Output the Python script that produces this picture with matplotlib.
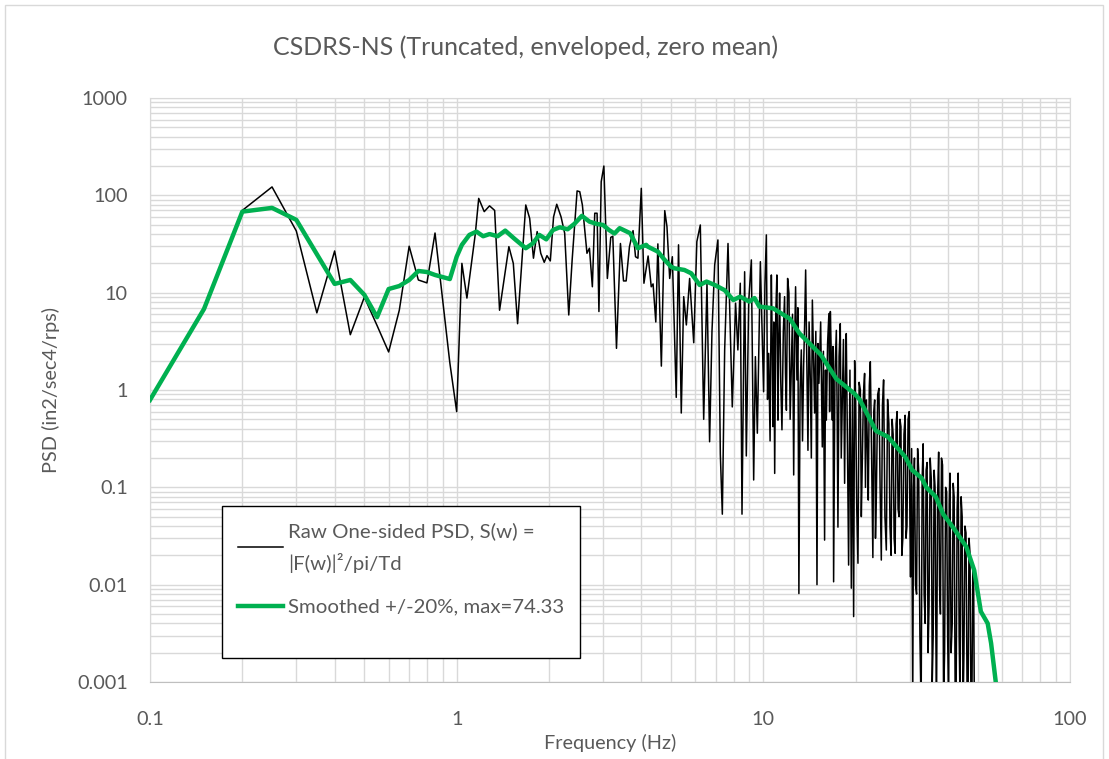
import matplotlib
matplotlib.use("Agg")
from matplotlib import pyplot as plt
from matplotlib.patches import Rectangle
from matplotlib.ticker import LogLocator, FuncFormatter, NullFormatter

plt.rcParams['font.family'] = ['Lato', 'DejaVu Sans']

# raw one-sided PSD below 10 Hz (Hz, in2/sec4/rps)
raw_freq_lo = [0.2, 0.25, 0.3, 0.35, 0.4, 0.45, 0.5, 0.55, 0.6, 0.65,
               0.7, 0.75, 0.8, 0.85, 0.9, 0.95, 1.0, 1.04, 1.08, 1.15,
               1.18, 1.23, 1.28, 1.33, 1.38, 1.48, 1.53, 1.58, 1.68, 1.73,
               1.78, 1.83, 1.88, 1.93, 1.97, 2.02, 2.07, 2.12, 2.19, 2.25,
               2.32, 2.38, 2.47, 2.52, 2.57, 2.66, 2.71, 2.77, 2.82, 2.87,
               2.91, 2.96, 3.02, 3.1, 3.18, 3.23, 3.32, 3.42, 3.5, 3.57,
               3.66, 3.76, 3.83, 3.9, 4.0, 4.08, 4.21, 4.31, 4.37, 4.46,
               4.53, 4.65, 4.77, 4.85, 4.95, 5.05, 5.2, 5.29, 5.4, 5.5,
               5.61, 5.75, 5.93, 6.07, 6.23, 6.39, 6.55, 6.68, 6.8, 6.94,
               7.11, 7.24, 7.35, 7.48, 7.67, 7.92, 8.12, 8.26, 8.41, 8.52,
               8.69, 8.8, 8.96, 9.14, 9.3, 9.42, 9.56, 9.78]
raw_psd_lo = [70, 122, 43, 6.2, 26.8, 3.7, 9.0, 4.6, 2.46, 6.6,
              30, 13.5, 12.6, 41, 8.5, 1.9, 0.6, 20, 8.8, 40,
              93, 68, 78, 70, 6.6, 29.7, 20, 4.8, 79.6, 58,
              22.6, 42.4, 25.4, 20.5, 24, 21.2, 60, 81, 60, 40.8,
              5.9, 21.7, 111, 109, 79.6, 25.4, 28.6, 11.5, 65.5, 65.5,
              6.4, 138, 200, 14, 37, 38, 2.68, 32, 13.2, 13.2,
              29.7, 43.4, 23.4, 22.6, 118, 12.5, 23.8, 11.5, 12.3, 5.0,
              31.7, 1.76, 69.6, 47.7, 14, 23.4, 0.84, 31, 0.58, 9.1,
              4.66, 14, 3.06, 33.4, 49.6, 0.5, 12.5, 0.294, 3.98, 19.3,
              34.8, 0.22, 0.053, 2.58, 32, 0.67, 7.8, 2.58, 12.5, 0.053,
              16.4, 0.21, 8.1, 21.7, 0.119, 2.2, 0.36, 20.8]

# raw PSD above 10 Hz (dense part)
raw_freq_hi = [10.02, 10.12, 10.23, 10.32, 10.41, 10.52, 10.62, 10.69, 10.75, 10.82,
               10.89, 10.98, 11.07, 11.12, 11.16, 11.23, 11.3, 11.4, 11.5, 11.62,
               11.73, 11.81, 11.89, 12.0, 12.12, 12.23, 12.34, 12.45, 12.56, 12.65,
               12.74, 12.8, 12.87, 12.96, 13.06, 13.18, 13.3, 13.42, 13.53, 13.64,
               13.74, 13.86, 13.98, 14.1, 14.23, 14.34, 14.45, 14.58, 14.7, 14.83,
               14.96, 15.07, 15.18, 15.38, 15.57, 15.7, 15.84, 15.95, 16.05, 16.2,
               16.36, 16.45, 16.54, 16.67, 16.79, 16.87, 16.95, 17.12, 17.3, 17.4,
               17.51, 17.66, 17.82, 17.95, 18.09, 18.25, 18.41, 18.52, 18.64, 18.8,
               18.97, 19.16, 19.36, 19.53, 19.7, 19.85, 20.0, 20.17, 20.35, 20.53,
               20.72, 20.87, 21.03, 21.2, 21.39, 21.53, 21.67, 21.83, 21.99, 22.16,
               22.33, 22.55, 22.76, 22.92, 23.07, 23.21, 23.36, 23.6, 23.82, 24.03,
               24.25, 24.46, 24.67, 24.92, 25.18, 25.42, 25.67, 25.88, 26.1, 26.3,
               26.5, 26.7, 26.9, 27.1, 27.3, 27.5, 27.7, 27.9, 28.1, 28.3,
               28.5, 28.75, 29.0, 29.2, 29.4, 29.65, 29.9, 30.05, 30.2, 30.45,
               30.7, 30.9, 31.1, 31.35, 31.6, 31.85, 32.1, 32.4, 32.7, 32.95,
               33.2, 33.45, 33.7, 33.95, 34.2, 34.45, 34.7, 35.0, 35.3, 35.55,
               35.8, 36.05, 36.3, 36.5, 36.7, 37.0, 37.3, 37.55, 37.8, 38.1,
               38.4, 38.7, 39.0, 39.3, 39.6, 39.9, 40.2, 40.4, 40.6, 40.95,
               41.3, 41.6, 41.9, 42.2, 42.5, 42.85, 43.2, 43.5, 43.8, 44.15,
               44.5, 44.8, 45.1, 45.45, 45.8, 46.15, 46.5, 46.85, 47.2, 47.55,
               47.9, 48.2, 48.5, 48.75, 49.0]
raw_psd_hi = [0.96, 12, 39.2, 0.8, 2.38, 0.3, 15.2, 3, 0.42, 5,
              0.139, 6, 15.2, 2, 0.49, 3.5, 9.9, 1.2, 0.39, 4,
              9.1, 1.5, 0.62, 14, 9.9, 0.5, 1.74, 6, 0.134, 3,
              11.5, 4, 1.27, 7, 0.0081, 1.0, 2.58, 0.3, 1.74, 5,
              17.1, 2, 0.24, 5, 1.27, 0.2, 8.4, 2, 0.58, 4,
              0.01, 3, 1.17, 5, 0.26, 2.5, 0.0287, 1.6, 0.49, 3,
              6.1, 0.6, 6.4, 2, 0.49, 2.8, 0.0107, 1.5, 4.1, 0.7,
              0.039, 2.2, 4.8, 0.2, 0.79, 3.3, 0.11, 1.1, 3.8, 0.3,
              0.0159, 1.6, 0.0092, 0.9, 0.0047, 2.0, 0.73, 0.06, 0.0166, 1.2,
              1.0, 0.05, 0.19, 0.9, 1.48, 0.1, 0.79, 0.3, 0.074, 1.1,
              1.95, 0.2, 0.019, 0.6, 0.79, 0.03, 0.08, 0.9, 1.04, 0.1,
              0.0179, 0.7, 1.27, 0.05, 0.0227, 0.8, 0.45, 0.04, 0.02, 0.5,
              0.35, 0.03, 0.021, 0.45, 0.6, 0.06, 0.05, 0.5, 0.42, 0.02,
              0.03, 0.35, 0.55, 0.03, 0.04, 0.5, 0.6, 0.05, 0.012, 0.25,
              0.0006, 0.1, 0.2, 0.01, 0.008, 0.25, 0.15, 0.003, 0.0005, 0.12,
              0.28, 0.008, 0.004, 0.15, 0.18, 0.002, 0.006, 0.2, 0.12, 0.001,
              0.003, 0.15, 0.1, 0.004, 0.0005, 0.08, 0.23, 0.01, 0.005, 0.2,
              0.17, 0.0006, 0.002, 0.1, 0.09, 0.003, 0.0005, 0.07, 0.14, 0.002,
              0.004, 0.11, 0.08, 0.001, 0.0005, 0.06, 0.14, 0.003, 0.0006, 0.08,
              0.05, 0.0005, 0.002, 0.04, 0.034, 0.001, 0.0005, 0.03, 0.021, 0.0005,
              0.0008, 0.015, 0.012, 0.0006, 0.0005]

# smoothed +/-20% curve
smooth_freq = [0.1, 0.15, 0.2, 0.25, 0.3, 0.4, 0.45, 0.5, 0.55, 0.6,
               0.65, 0.7, 0.75, 0.8, 0.85, 0.95, 1.0, 1.04, 1.1, 1.16,
               1.22, 1.28, 1.36, 1.44, 1.54, 1.68, 1.77, 1.86, 1.96, 2.06,
               2.17, 2.3, 2.42, 2.56, 2.71, 2.86, 3.0, 3.14, 3.27, 3.4,
               3.68, 3.9, 4.15, 4.2, 4.53, 4.75, 5.0, 5.13, 5.53, 5.82,
               6.2, 6.53, 6.94, 7.48, 7.98, 8.4, 9.0, 9.36, 9.7, 10.76,
               12.2, 13.1, 15.4, 17.3, 18.6, 19.8, 20.6, 23.3, 25.5, 29.0,
               30.6, 32.8, 34.0, 36.5, 38.6, 42.0, 45.9, 48.7, 51.2, 53.9,
               55.3, 57.5]
smooth_psd = [0.79, 6.8, 68, 74.33, 56, 12.3, 13.5, 9.5, 5.6, 10.9,
              11.7, 13.5, 16.7, 16.3, 15.2, 13.8, 23.4, 31, 39.2, 42.4,
              38, 40, 38, 43.4, 36, 28.6, 32, 39.2, 35.3, 44,
              47, 44.8, 50.9, 61.5, 53.7, 50.9, 49.6, 44, 40.5, 46,
              40.8, 28.6, 31, 29.7, 26.4, 22, 18.5, 17.8, 17.1, 15.8,
              12, 13, 12, 10.6, 8.4, 9.1, 8.1, 8.8, 7.2, 6.9,
              5.4, 3.83, 2.3, 1.3, 1.08, 0.92, 0.8, 0.38, 0.33, 0.206,
              0.15, 0.125, 0.1, 0.08, 0.053, 0.037, 0.0245, 0.0141, 0.0053, 0.004,
              0.0025, 0.0009]

x_ticks = [0.1, 1, 10, 100]
y_ticks = [0.001, 0.01, 0.1, 1, 10, 100, 1000]

raw_freq = raw_freq_lo + raw_freq_hi
raw_psd = raw_psd_lo + raw_psd_hi
assert len(raw_freq) == len(raw_psd)
assert len(smooth_freq) == len(smooth_psd)

text_color = '#595959'
grid_color = '#D9D9D9'

fig = plt.figure(figsize=(11.09, 7.59), dpi=100)
ax = fig.add_axes([150 / 1109, 1 - 682 / 759, 920 / 1109, 584 / 759])

ax.plot(raw_freq, raw_psd, color='black', linewidth=1.1, zorder=3,
        label='Raw One-sided PSD, S(w) =\n|F(w)|\u00b2/pi/Td')
ax.plot(smooth_freq, smooth_psd, color='#00B050', linewidth=3.2, zorder=4,
        solid_joinstyle='round', label='Smoothed +/-20%, max=74.33')

ax.set_xscale('log')
ax.set_yscale('log')
ax.set_xlim(0.1, 100)
ax.set_ylim(0.001, 1000)

ax.xaxis.set_minor_locator(LogLocator(base=10, subs=range(2, 10), numticks=100))
ax.yaxis.set_minor_locator(LogLocator(base=10, subs=range(2, 10), numticks=100))
ax.set_xticks(x_ticks)
ax.set_yticks(y_ticks)
fmt = FuncFormatter(lambda v, p: '{:g}'.format(v))
ax.xaxis.set_major_formatter(fmt)
ax.yaxis.set_major_formatter(fmt)
ax.xaxis.set_minor_formatter(NullFormatter())
ax.yaxis.set_minor_formatter(NullFormatter())

ax.grid(True, which='both', color=grid_color, linewidth=1.0, zorder=0)
ax.set_axisbelow(True)
ax.tick_params(which='both', length=0, labelsize=14.3, labelcolor=text_color)
ax.tick_params(axis='x', pad=21)
ax.tick_params(axis='y', pad=16)
for side in ['top', 'right', 'left']:
    ax.spines[side].set_color(grid_color)
ax.spines['bottom'].set_color('#BFBFBF')

ax.set_xlabel('Frequency (Hz)', fontsize=14.3, color=text_color, labelpad=4)
ax.set_ylabel('PSD (in2/sec4/rps)', fontsize=14.3, color=text_color, labelpad=12)

fig.text(526 / 1109, 1 - 47 / 759, 'CSDRS-NS (Truncated, enveloped, zero mean)',
         ha='center', va='center', fontsize=18, color=text_color)

# legend box, drawn by hand because it is taller than its entries
box = Rectangle((222 / 1109, 1 - 658 / 759), (580 - 222) / 1109, (658 - 506) / 759,
                transform=fig.transFigure, facecolor='white', edgecolor='black',
                linewidth=1.0, zorder=5)
ax.add_patch(box)
leg = ax.legend(loc='upper left', bbox_to_anchor=(224 / 1109, 1 - 508 / 759),
                bbox_transform=fig.transFigure, frameon=False, fontsize=14.7,
                handlelength=2.2, handletextpad=0.25, labelspacing=1.25,
                borderpad=0.2)
leg.set_zorder(6)
for t in leg.get_texts():
    t.set_color(text_color)
    t.set_linespacing(1.75)

# chart area border
fig.patches.append(Rectangle((5 / 1109, -0.01), 1098 / 1109, 1 - 5 / 759 + 0.01,
                             transform=fig.transFigure, facecolor='none',
                             edgecolor=grid_color, linewidth=1.0))

fig.savefig('out.png', dpi=100)
